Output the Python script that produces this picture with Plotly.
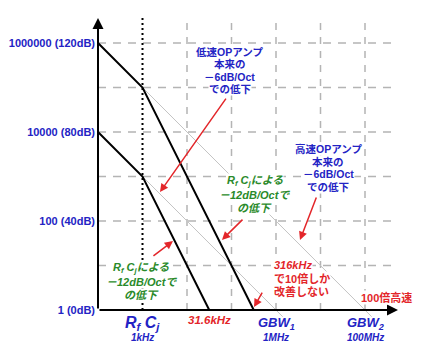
import numpy as np
import plotly.graph_objects as go

# ---------------- data ----------------
high_f = [100, 1000, 316000]          # high-speed op-amp with RfCj pole
high_db = [120, 100, 0]
low_f = [100, 1000, 31600]            # low-speed op-amp with RfCj pole
low_db = [80, 60, 0]
high_orig_f = [1000, 141000000]       # original -6dB/Oct (high speed)
high_orig_db = [100, -3]
low_orig_f = [1000, 1410000]          # original -6dB/Oct (low speed)
low_orig_db = [60, -3]
pole_f = 1000
grid_db = [20, 40, 60, 80, 100, 120]
grid_f = [1e4, 1e5, 1e6, 1e7, 1e8]
grid_f_end = 4.2e8
grid_db_top = 131.5
ytick_vals = [0, 40, 80, 120]
ytick_text = ["1 (0dB)", "100 (40dB)", "10000 (80dB)", "1000000 (120dB)"]
xlab_f = [1000, 1e6, 1e8]
xlab_name = ["R<sub>f</sub> C<sub>j</sub>", "GBW<sub>1</sub>", "GBW<sub>2</sub>"]
xlab_size = [16, 13, 13]
xlab_freq = ["1kHz", "1MHz", "100MHz"]
mark_f = 31600
mark_text = "31.6kHz"

# text blocks: lines, (freq, dB) anchor, colour key, italic, xanchor, line spacing, size
blocks = [
    (["低速OPアンプ", "本来の", "－6dB/Oct", "での低下"], (92500, 107.6), "blue", False, "center", 12.2, 10.5),
    (["高速OPアンプ", "本来の", "－6dB/Oct", "での低下"], (14750000, 63.8), "blue", False, "center", 12.4, 10.5),
    (["R<sub>f</sub> C<sub>j</sub>による", "－12dB/Octで", "の低下"], (337000, 51.7), "green", True, "center", 13.5, 11),
    (["R<sub>f</sub> C<sub>j</sub>による", "－12dB/Octで", "の低下"], (940, 12.8), "green", True, "center", 13.5, 11),
    (["<i>316kHz</i>", "で10倍しか", "改善しない"], (857000, 14.2), "red", False, "left", 13.5, 11),
    (["100倍高速"], (312000000, 5.8), "red", False, "center", 13, 11),
]
# red arrows: (head freq, head dB), (tail freq, tail dB)
arrows = [
    ((2470, 53.0), (79200, 95.7)),
    ((3460000, 31.5), (8300000, 51.2)),
    ((61000, 31.5), (191000, 41.3)),
    ((4840, 31.0), (1630, 23.8)),
    ((321000, 1.3), (511000, 8.5)),
]

# ---------------- layout geometry ----------------
W, H = 435, 351
L, R, T, B = 97, 33, 12, 28
PXD = 44.5     # px per decade
PXDB = 2.225   # px per dB
x0 = 2 - (98 - L) / PXD
x1 = x0 + (W - L - R) / PXD
y1 = (310 - T) / PXDB
y0 = y1 - (H - T - B) / PXDB

COL = {"blue": "#2323c4", "red": "#e3262a", "green": "#2a8a2a"}
FONT = "Liberation Sans, Noto Sans CJK JP, sans-serif"

fig = go.Figure()

# grid
gx, gy = [], []
for d in grid_db:
    gx += [100, grid_f_end, None]
    gy += [d, d, None]
fig.add_trace(go.Scatter(x=gx, y=gy, mode="lines",
                         line=dict(color="#b4b4b4", width=1.5, dash="8px,7px"),
                         hoverinfo="skip", showlegend=False))
vx, vy = [], []
for f in grid_f:
    vx += [f, f, None]
    vy += [0, grid_db_top, None]
fig.add_trace(go.Scatter(x=vx, y=vy, mode="lines",
                         line=dict(color="#b4b4b4", width=1.5, dash="7px,7px"),
                         hoverinfo="skip", showlegend=False))

# original -6dB/Oct lines (thin gray)
for fx, dy in [(high_orig_f, high_orig_db), (low_orig_f, low_orig_db)]:
    fig.add_trace(go.Scatter(x=fx, y=dy, mode="lines",
                             line=dict(color="#c4c4c4", width=1),
                             hoverinfo="skip", showlegend=False))

# RfCj pole dotted line
fig.add_trace(go.Scatter(x=[pole_f, pole_f], y=[0, grid_db_top], mode="lines",
                         line=dict(color="black", width=2, dash="2px,3px"),
                         hoverinfo="skip", showlegend=False))

# actual responses (thick black)
for fx, dy in [(high_f, high_db), (low_f, low_db)]:
    fig.add_trace(go.Scatter(x=fx, y=dy, mode="lines",
                             line=dict(color="black", width=2),
                             hoverinfo="skip", showlegend=False))

ann = []
# axes arrows
ann.append(dict(x=2, y=131.2, ax=2, ay=0, xref="x", yref="y", axref="x", ayref="y",
                text="", showarrow=True, arrowhead=2, arrowsize=1.1, arrowwidth=2,
                arrowcolor="black", standoff=0))
ann.append(dict(x=2 + 300 / PXD, y=0, ax=2, ay=0, xref="x", yref="y", axref="x", ayref="y",
                text="", showarrow=True, arrowhead=2, arrowsize=1.1, arrowwidth=2,
                arrowcolor="black", standoff=0))

# x labels
for f, name, sz, fr in zip(xlab_f, xlab_name, xlab_size, xlab_freq):
    ann.append(dict(x=np.log10(f), y=0, xref="x", yref="y", yshift=-13,
                    text="<b><i>%s</i></b>" % name, showarrow=False,
                    font=dict(family=FONT, size=sz, color=COL["blue"])))
    ann.append(dict(x=np.log10(f), y=0, xref="x", yref="y", yshift=-27.5,
                    text="<b><i>%s</i></b>" % fr, showarrow=False,
                    font=dict(family=FONT, size=10, color=COL["blue"])))
ann.append(dict(x=np.log10(mark_f), y=0, xref="x", yref="y", yshift=-9.5,
                text="<b><i>%s</i></b>" % mark_text, showarrow=False,
                font=dict(family=FONT, size=11.5, color=COL["red"])))

# red arrows
for (hf, hd), (tf, td) in arrows:
    ann.append(dict(x=np.log10(hf), y=hd, ax=np.log10(tf), ay=td,
                    xref="x", yref="y", axref="x", ayref="y", text="",
                    showarrow=True, arrowhead=2, arrowsize=1.1, arrowwidth=1.5,
                    arrowcolor=COL["red"], standoff=0))

# text blocks
for lines, (bf, bd), ck, ital, xa, sp, fs in blocks:
    n = len(lines)
    for i, t in enumerate(lines):
        txt = "<b>%s</b>" % t
        if ital:
            txt = "<i>%s</i>" % txt
        ann.append(dict(x=np.log10(bf), y=bd, xref="x", yref="y",
                        yshift=((n - 1) / 2 - i) * sp, xanchor=xa,
                        text=txt, showarrow=False, bgcolor="white", borderpad=0,
                        font=dict(family=FONT, size=fs, color=COL[ck])))

fig.update_layout(
    width=W, height=H,
    margin=dict(l=L, r=R, t=T, b=B, autoexpand=False),
    paper_bgcolor="white", plot_bgcolor="white",
    showlegend=False,
    annotations=ann,
    xaxis=dict(type="log", range=[x0, x1], showgrid=False, zeroline=False,
               showline=False, showticklabels=False, ticks=""),
    yaxis=dict(range=[y0, y1], showgrid=False, zeroline=False, showline=False,
               tickvals=ytick_vals, ticktext=["<b>%s</b>" % t for t in ytick_text],
               ticks="", ticklabelstandoff=1,
               tickfont=dict(family=FONT, size=11, color=COL["blue"])),
)

fig.write_html("out.html")
